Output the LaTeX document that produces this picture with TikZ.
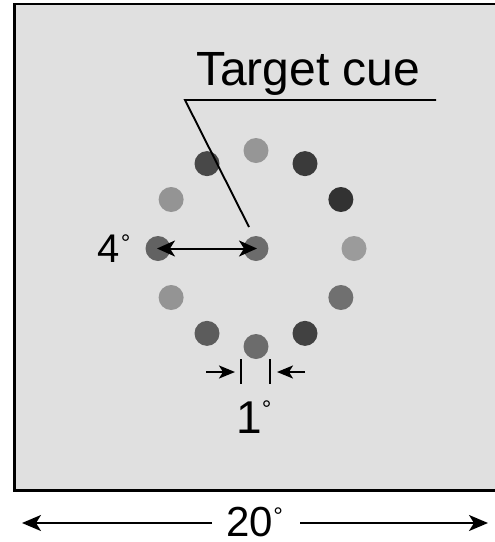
\documentclass[tikz,border=0pt]{standalone}
\usepackage{fontspec}
\setmainfont{Liberation Sans}
\usetikzlibrary{arrows.meta,calc}
\newcommand\mydeg[1]{\raisebox{#1}{\fontsize{24}{24}\selectfont °}}
\definecolor{bgfill}{RGB}{224,224,224}
\begin{document}
\begin{tikzpicture}[x=1pt,y=-1pt,
  dot/.style={circle,inner sep=0pt,minimum size=25pt},
  lbl/.style={anchor=base west,inner sep=0pt},
  arr/.style={-{Stealth[length=16pt,width=13pt,inset=4pt]},line width=2pt},
  bigarr/.style={-{Stealth[length=19pt,width=16pt,inset=5pt]},line width=2pt},
  leader/.style={line width=1.9pt},
]
\useasboundingbox (0,0) rectangle (495,542);
\fill[white] (0,0) rectangle (495,542);
\fill[bgfill] (14.7,4) rectangle (500,490.5);
\draw[line width=2.6pt] (500,4) -- (14.7,4) -- (14.7,490.5) -- (500,490.5);

% dots
\coordinate (c) at (256,248.5);
\foreach \a/\g in {0/155,30/50,60/58,90/150,120/72,150/148,180/98,210/148,240/92,270/108,300/65,330/112}{
  \definecolor{dotc}{RGB}{\g,\g,\g}
  \node[dot,fill=dotc] (d\a) at ($(c)+(-\a:98)$) {};
}
\definecolor{dotcc}{RGB}{108,108,108}
\node[dot,fill=dotcc] (dc) at (c) {};

% target cue
\node[lbl,font=\fontsize{48}{48}\selectfont] (tc) at (196,85) {Target cue};
\coordinate (u1) at (185,100);
\coordinate (u2) at (436,100);
\coordinate (lend) at (249,227);
\draw[leader] (u2) -- (u1) -- (lend);

% 4 degrees
\node[lbl,font=\fontsize{40}{40}\selectfont] (l4) at (97,262) {4\kern1.5pt\mydeg{11pt}};
\draw[line width=2pt,{Stealth[length=18pt,width=16pt,inset=5pt]}-{Stealth[length=18pt,width=16pt,inset=5pt]}] ([xshift=-1pt]d180.center) -- ([xshift=1pt]dc.center);

% 1 degree
\coordinate (t1a) at (241,359);
\coordinate (t1b) at (241,384);
\coordinate (t2a) at (270,359);
\coordinate (t2b) at (270,384);
\draw[line width=1.6pt] (t1a) -- (t1b);
\draw[line width=1.6pt] (t2a) -- (t2b);
\coordinate (a1s) at (206,372);
\coordinate (a1e) at (235,372);
\coordinate (a2s) at (305,372);
\coordinate (a2e) at (277,372);
\draw[arr] (a1s) -- (a1e);
\draw[arr] (a2s) -- (a2e);
\node[lbl,font=\fontsize{46}{46}\selectfont] (l1) at (236,433) {1\mydeg{15.5pt}};

% 20 degrees
\node[lbl,font=\fontsize{42}{42}\selectfont] (l20) at (226,536.5) {20\kern0.5pt\mydeg{12.5pt}};
\coordinate (b1) at (212,523);
\coordinate (bl) at (22,523);
\coordinate (b2) at (300,523);
\coordinate (br) at (488,523);
\draw[bigarr] (b1) -- (bl);
\draw[bigarr] (b2) -- (br);
\end{tikzpicture}
\end{document}
